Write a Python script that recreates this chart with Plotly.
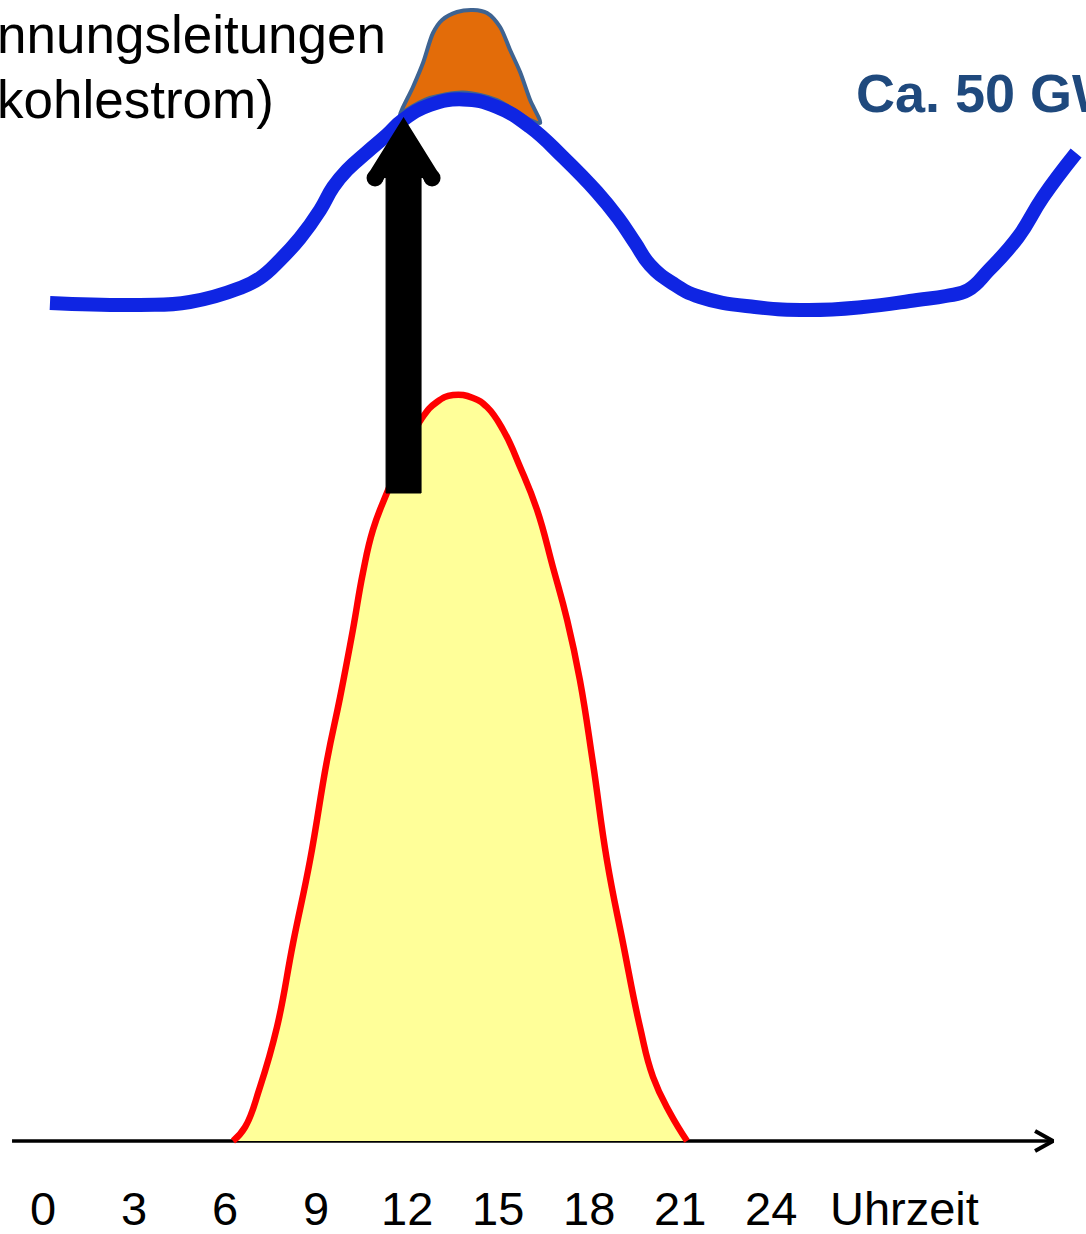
import math
import plotly.graph_objects as go

# Load curve over the day (hours, GW)
load_hours = [0.23, 3.20, 4.84, 6.49, 7.15, 7.81, 8.47, 9.13, 9.56, 10.02, 10.68, 11.33,
              11.86, 12.75, 13.84, 14.96, 16.05, 17.13, 18.25, 18.95, 19.51, 20.00, 20.73,
              21.65, 23.46, 25.24, 27.02, 28.80, 29.75, 30.48, 31.17, 32.13, 32.95, 34.04]
load_gw = [41.9, 41.8, 41.95, 42.65, 43.15, 44.05, 45.15, 46.55, 47.7, 48.55, 49.45, 50.3,
           51.05, 51.8, 52.08, 51.7, 50.7, 49.2, 47.45, 46.15, 44.9, 43.8, 42.9,
           42.2, 41.7, 41.55, 41.7, 42.05, 42.25, 42.55, 43.55, 45.2, 47.2, 49.4]

# Solar feed-in (hours, GW)
solar_hours = [6.26, 6.66, 7.15, 7.71, 8.24, 8.80, 9.36, 9.79, 10.21, 10.54, 10.87, 11.33,
               11.93, 12.49, 12.98, 13.51, 14.17, 14.63, 15.16, 15.72, 16.28, 16.80, 17.27,
               17.69, 18.12, 18.58, 19.11, 19.67, 20.10, 20.66, 21.22]
solar_gw = [0.0, 0.7, 2.7, 5.7, 9.9, 14.05, 19.05, 22.2, 25.55, 28.4, 30.55, 32.4,
            34.45, 36.15, 36.95, 37.3, 37.15, 36.7, 35.55, 33.7, 31.55, 28.7, 26.05,
            23.05, 18.9, 14.05, 9.9, 5.7, 3.2, 1.4, 0.0]

# Midday peak above the load curve (outline, then back along the load curve)
peak_hours = [11.76, 12.19, 12.52, 12.85, 13.15, 13.64, 14.17, 14.63, 15.06, 15.39, 15.72,
              16.05, 16.38, 16.05, 14.96, 13.84, 12.75, 11.93, 11.76]
peak_gw = [51.3, 52.7, 53.9, 55.4, 56.05, 56.45, 56.55, 56.4, 55.7, 54.55, 53.45,
           52.05, 50.9, 51.05, 52.05, 52.43, 52.15, 51.5, 51.3]

# Arrow: solar surplus pushed up into the grid
arrow_hour = 11.88
arrow_from_gw = 32.4
arrow_to_gw = 51.45

tick_hours = [0, 3, 6, 9, 12, 15, 18, 21, 24]
tick_labels = ["0", "3", "6", "9", "12", "15", "18", "21", "24"]

W, H = 1086, 1234
X_RANGE = [-43 / 30.35, (W - 43) / 30.35]
Y_RANGE = [-93 / 20, 1141 / 20]
px_h = W / (X_RANGE[1] - X_RANGE[0])   # pixels per hour
px_v = H / (Y_RANGE[1] - Y_RANGE[0])   # pixels per GW

FONT = "Arial, Liberation Sans, sans-serif"

fig = go.Figure()

# Time axis with open arrowhead
ax_end = 33.28
fig.add_trace(go.Scatter(x=[-1.02, ax_end], y=[0, 0], mode="lines",
                         line=dict(color="black", width=3.5), hoverinfo="skip"))
fig.add_trace(go.Scatter(x=[ax_end - 18 / px_h, ax_end, ax_end - 18 / px_h],
                         y=[10 / px_v, 0, -10 / px_v], mode="lines",
                         line=dict(color="black", width=4), hoverinfo="skip"))

# Solar area
fig.add_trace(go.Scatter(x=solar_hours, y=solar_gw, mode="lines", fill="tozeroy",
                         fillcolor="#FFFF99", line=dict(color="#FF0000", width=6.5,
                                                        shape="spline", smoothing=1.3),
                         hoverinfo="skip"))

# Peak on top of the load curve
fig.add_trace(go.Scatter(x=peak_hours, y=peak_gw, mode="lines", fill="toself",
                         fillcolor="#E36C09", line=dict(color="#3E6391", width=4,
                                                        shape="spline", smoothing=0.8),
                         hoverinfo="skip"))

# Load curve
fig.add_trace(go.Scatter(x=load_hours, y=load_gw, mode="lines",
                         line=dict(color="#0F25E3", width=14, shape="spline", smoothing=1.3),
                         hoverinfo="skip"))

# Arrow shaft
half_shaft = 17.5 / px_h
half_head = 28.5 / px_h
head_len_px = 66
stroke = 16
barb_gw = arrow_to_gw - head_len_px / px_v
fig.add_trace(go.Scatter(
    x=[arrow_hour - half_shaft, arrow_hour + half_shaft, arrow_hour + half_shaft,
       arrow_hour - half_shaft, arrow_hour - half_shaft],
    y=[arrow_from_gw, arrow_from_gw, barb_gw, barb_gw, arrow_from_gw],
    mode="lines", fill="toself", fillcolor="black", line=dict(color="black", width=1),
    hoverinfo="skip"))

# Arrow head: thick stroke with rounded barbs, mitred point at the tip
half_angle = math.atan(28.5 / head_len_px)
miter_px = (stroke / 2) / math.sin(half_angle)
apex_gw = arrow_to_gw - miter_px / px_v
fig.add_trace(go.Scatter(
    x=[arrow_hour - half_head, arrow_hour, arrow_hour + half_head],
    y=[barb_gw, apex_gw, barb_gw],
    mode="lines+markers", fill="toself", fillcolor="black",
    line=dict(color="black", width=stroke),
    marker=dict(color="black", size=[stroke + 1, 0, stroke + 1], opacity=1,
                line=dict(width=0)),
    hoverinfo="skip"))

annotations = []
for h, t in zip(tick_hours, tick_labels):
    annotations.append(dict(x=h, y=-3.35, text=t, showarrow=False, xanchor="center",
                            yanchor="middle", font=dict(family=FONT, size=47, color="black")))
annotations.append(dict(x=25.86, y=-3.35, text="Uhrzeit", showarrow=False, xanchor="left",
                        yanchor="middle", font=dict(family=FONT, size=47, color="black")))
annotations.append(dict(x=11.37, y=55.35, text="nnungsleitungen", showarrow=False,
                        xanchor="right", yanchor="middle",
                        font=dict(family=FONT, size=53, color="black")))
annotations.append(dict(x=7.68, y=52.1, text="kohlestrom)", showarrow=False,
                        xanchor="right", yanchor="middle",
                        font=dict(family=FONT, size=53, color="black")))
annotations.append(dict(x=26.72, y=52.4, text="<b>Ca. 50 GW</b>", showarrow=False,
                        xanchor="left", yanchor="middle",
                        font=dict(family=FONT, size=54, color="#1F497D")))

fig.update_layout(
    width=W, height=H, margin=dict(l=0, r=0, t=0, b=0),
    paper_bgcolor="white", plot_bgcolor="white", showlegend=False,
    xaxis=dict(range=X_RANGE, visible=False, fixedrange=True),
    yaxis=dict(range=Y_RANGE, visible=False, fixedrange=True),
    annotations=annotations,
)

fig.write_html("out.html")
